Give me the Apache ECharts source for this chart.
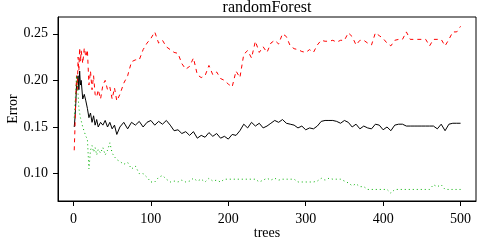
<!DOCTYPE html>
<html>
<head>
<meta charset="utf-8">
<script src="https://cdn.jsdelivr.net/npm/echarts@6/dist/echarts.min.js"></script>
<style>
  html, body { margin: 0; padding: 0; background: #fff; }
  #chart { width: 477px; height: 242px; }
</style>
</head>
<body>
<div id="chart"></div>
<script>
// number of trees at each sampled point
var trees = [1,2,3,4,5,6,7,8,9,10,12,14,16,18,20,22,24,26,28,30,32,35,38,41,44,47,50,53,56,
  60,65,70,75,80,85,90,95,100,105,110,115,120,125,130,135,140,145,150,155,
  160,165,170,175,180,185,190,195,200,205,210,215,220,225,230,235,240,245,250,255,
  260,265,270,275,280,285,290,295,300,305,310,315,320,325,330,335,340,345,350,355,
  360,365,370,375,380,385,390,395,400,405,410,415,420,425,430,435,440,445,450,455,
  460,465,470,475,480,485,490,495,500];

var oobError = [0.15,0.16,0.175,0.195,0.2,0.205,0.19,0.21,0.195,0.2,0.18,0.185,0.178,0.17,0.16,0.165,0.155,0.162,0.152,0.158,0.15,0.155,0.152,0.157,0.15,0.155,0.148,0.152,0.142,
  0.15,0.155,0.148,0.155,0.152,0.156,0.15,0.155,0.157,0.152,
  0.156,0.153,0.157,0.152,0.146,0.147,0.143,0.145,0.141,0.145,
  0.138,0.141,0.139,0.144,0.14,0.143,0.138,0.14,0.137,0.142,
  0.141,0.146,0.153,0.149,0.155,0.151,0.154,0.149,0.151,0.154,
  0.157,0.155,0.158,0.154,0.153,0.152,0.149,0.151,0.147,0.149,
  0.148,0.151,0.156,0.157,0.157,0.157,0.156,0.154,0.157,0.155,
  0.15,0.153,0.148,0.151,0.149,0.148,0.153,0.152,0.147,0.15,
  0.146,0.152,0.153,0.153,0.151,0.151,0.151,0.151,0.151,0.151,
  0.151,0.151,0.148,0.153,0.146,0.153,0.154,0.154,0.154];

var class1Error = [0.125,0.15,0.18,0.205,0.19,0.225,0.21,0.235,0.22,0.232,0.218,0.235,0.225,0.233,0.195,0.21,0.19,0.205,0.185,0.182,0.19,0.18,0.195,0.2,0.19,0.193,0.18,0.192,0.178,
  0.185,0.197,0.205,0.22,0.222,0.222,0.233,0.24,0.245,0.252,
  0.24,0.243,0.236,0.233,0.23,0.229,0.218,0.212,0.215,0.224,
  0.206,0.203,0.205,0.216,0.206,0.209,0.202,0.2,0.196,0.193,
  0.21,0.203,0.228,0.232,0.224,0.242,0.23,0.236,0.23,0.24,
  0.243,0.239,0.25,0.247,0.237,0.234,0.233,0.231,0.23,0.233,
  0.23,0.238,0.243,0.242,0.242,0.243,0.241,0.243,0.243,0.251,
  0.247,0.238,0.243,0.243,0.24,0.238,0.251,0.248,0.245,0.24,
  0.237,0.243,0.244,0.244,0.252,0.244,0.244,0.244,0.244,0.244,
  0.237,0.244,0.244,0.244,0.237,0.244,0.252,0.252,0.258];

var class2Error = [0.16,0.175,0.19,0.205,0.195,0.185,0.17,0.165,0.16,0.16,0.15,0.145,0.14,0.137,0.105,0.125,0.13,0.123,0.128,0.12,0.126,0.122,0.128,0.12,0.125,0.133,0.122,0.118,0.115,
  0.113,0.11,0.112,0.105,0.108,0.1,0.1,0.096,0.091,0.091,
  0.096,0.098,0.094,0.091,0.092,0.091,0.093,0.091,0.092,0.095,
  0.092,0.094,0.091,0.095,0.092,0.093,0.091,0.094,0.094,0.094,
  0.094,0.094,0.094,0.094,0.094,0.094,0.091,0.093,0.095,0.093,
  0.095,0.093,0.094,0.094,0.094,0.094,0.091,0.091,0.091,0.091,
  0.091,0.092,0.095,0.093,0.095,0.094,0.094,0.094,0.092,0.09,
  0.087,0.089,0.086,0.086,0.083,0.083,0.083,0.083,0.083,0.083,
  0.079,0.083,0.083,0.083,0.083,0.083,0.083,0.083,0.083,0.083,
  0.083,0.088,0.086,0.088,0.083,0.083,0.083,0.083,0.083];

var xTicks = [0, 100, 200, 300, 400, 500];
var yTicks = [0.10, 0.15, 0.20, 0.25];

var font = '"Liberation Serif", "DejaVu Serif", serif';

function pairs(vals){ return trees.map(function(t, i){ return [t, vals[i]]; }); }

var chart = echarts.init(document.getElementById('chart'));
var option = {
  animation: false,
  backgroundColor: '#fff',
  title: {
    text: 'randomForest',
    left: 267, top: 0, padding: 0,
    textAlign: 'center',
    textStyle: { fontFamily: font, fontSize: 16, fontWeight: 'normal', color: '#000' }
  },
  grid: { left: 58, right: 1, top: 17, bottom: 41, outerBoundsMode: 'none', containLabel: false,
    show: true, borderColor: '#000', borderWidth: 1, backgroundColor: 'transparent' },
  xAxis: {
    type: 'value', min: -19.96, max: 519.96,
    name: 'trees', nameLocation: 'middle', nameGap: 25, nameMoveOverlap: false,
    nameTextStyle: { fontFamily: font, fontSize: 14, color: '#000' },
    axisLine: { show: true, onZero: false, lineStyle: { color: '#000', width: 1 } },
    axisTick: { show: true, inside: false, length: 5, customValues: xTicks, lineStyle: { color: '#000' } },
    axisLabel: { customValues: xTicks, margin: 11, fontFamily: font, fontSize: 14, color: '#000' },
    splitLine: { show: false }
  },
  yAxis: {
    type: 'value', min: 0.0706, max: 0.268,
    name: 'Error', nameLocation: 'middle', nameGap: 38, nameRotate: 90, nameMoveOverlap: false,
    nameTextStyle: { fontFamily: font, fontSize: 14, color: '#000' },
    axisLine: { show: true, onZero: false, lineStyle: { color: '#000', width: 1 } },
    axisTick: { show: true, inside: false, length: 5, customValues: yTicks, lineStyle: { color: '#000' } },
    axisLabel: { customValues: yTicks, margin: 10, fontFamily: font, fontSize: 14, color: '#000',
      formatter: function(v){ return v.toFixed(2); } },
    splitLine: { show: false }
  },
  series: [
    { name: 'OOB', type: 'line', data: pairs(oobError), showSymbol: false, clip: true,
      lineStyle: { color: '#000', width: 1 } },
    { name: '1', type: 'line', data: pairs(class1Error), showSymbol: false, clip: true,
      lineStyle: { color: '#ff0000', width: 1, type: [4, 4] } },
    { name: '2', type: 'line', data: pairs(class2Error), showSymbol: false, clip: true,
      lineStyle: { color: '#00b000', width: 1, type: [1, 3] } }
  ]
};
chart.setOption(option);
</script>
</body>
</html>
